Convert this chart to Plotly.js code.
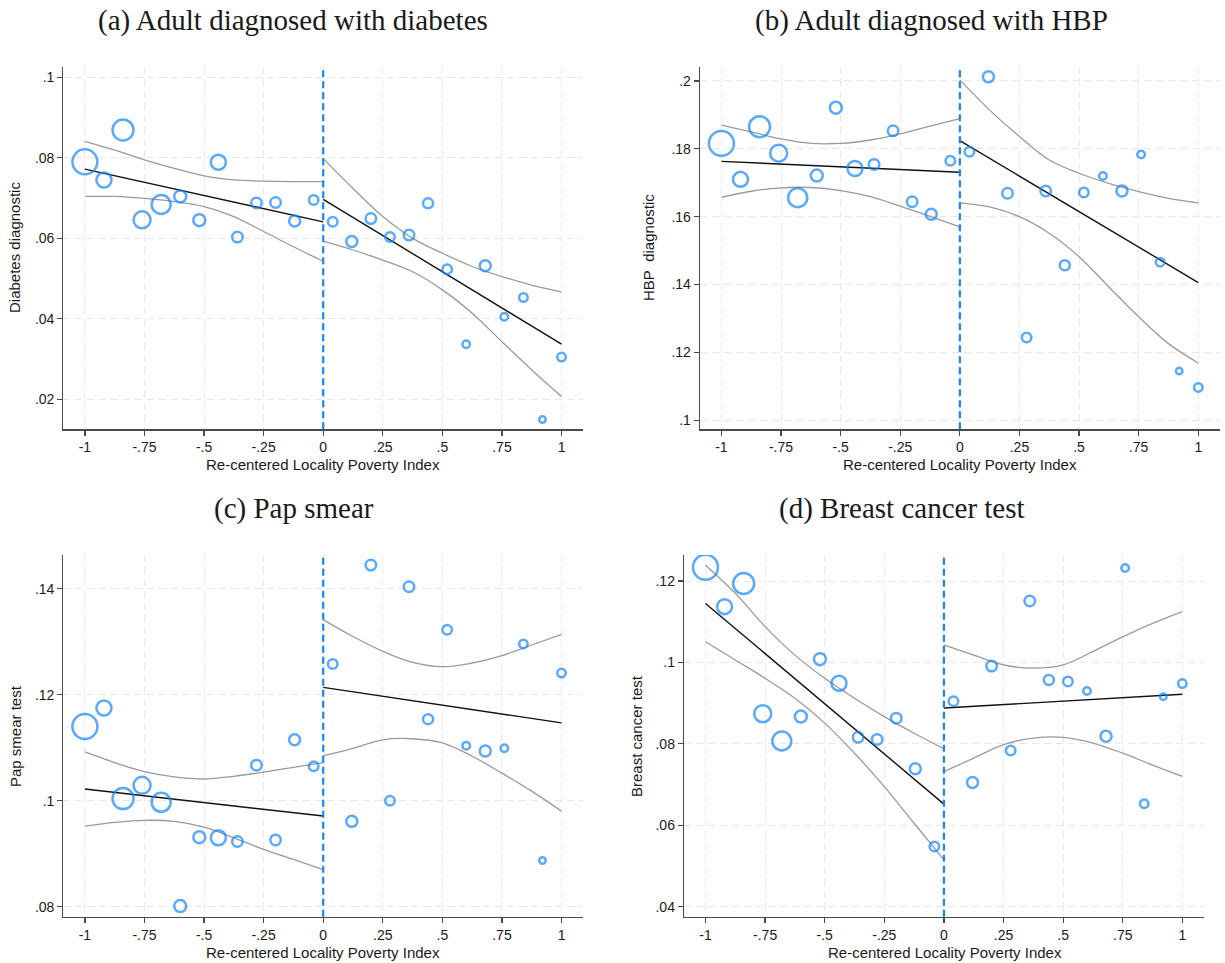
<!DOCTYPE html>
<html>
<head>
<meta charset="utf-8">
<script src="https://cdn.plot.ly/plotly-3.0.1.min.js"></script>
<style>html,body{margin:0;padding:0;background:#fff;}#chart{width:1225px;height:963px;}</style>
</head>
<body>
<div id="chart"></div>
<script>
// ---------- data ----------
const binX = [-1, -0.92, -0.84, -0.76, -0.68, -0.6, -0.52, -0.44, -0.36, -0.28, -0.2, -0.12, -0.04,
              0.04, 0.12, 0.2, 0.28, 0.36, 0.44, 0.52, 0.6, 0.68, 0.76, 0.84, 0.92, 1.0];
const binWeight = [25, 15, 21, 17, 19, 12, 12, 15, 10.5, 10.5, 10.5, 11, 9.5,
                   9.5, 11, 10.5, 9.5, 10.5, 10, 9.5, 7.5, 11, 7.5, 8.5, 6.5, 8.5];

const diabetesY = [0.0790, 0.0745, 0.0869, 0.0646, 0.0684, 0.0704, 0.0645, 0.0789, 0.0603, 0.0688, 0.0689, 0.0643, 0.0695,
                   0.0641, 0.0592, 0.0649, 0.0603, 0.0608, 0.0687, 0.0523, 0.0337, 0.0532, 0.0405, 0.0453, 0.0150, 0.0305];
const hbpY = [0.1816, 0.1710, 0.1865, 0.1787, 0.1656, 0.1721, 0.1921, 0.1742, 0.1754, 0.1853, 0.1644, 0.1607, 0.1765,
              0.1791, 0.2012, 0.1669, 0.1244, 0.1676, 0.1457, 0.1671, 0.1720, 0.1676, 0.1783, 0.1466, 0.1145, 0.1097];
const papY = [0.1140, 0.1175, 0.1004, 0.1029, 0.0997, 0.0801, 0.0931, 0.0930, 0.0923, 0.1067, 0.0926, 0.1115, 0.1065,
              0.1258, 0.0961, 0.1445, 0.1000, 0.1404, 0.1154, 0.1323, 0.1104, 0.1094, 0.1099, 0.1296, 0.0887, 0.1241];
const breastY = [0.1234, 0.1137, 0.1194, 0.0874, 0.0807, 0.0867, 0.1008, 0.0949, 0.0816, 0.0811, 0.0863, 0.0739, 0.0548,
                 0.0905, 0.0705, 0.0991, 0.0784, 0.1151, 0.0957, 0.0953, 0.0930, 0.0819, 0.1232, 0.0653, 0.0916, 0.0948];

const fitLeftX = [-1, 0];
const fitRightX = [0, 1];
const diabetesFitL = [0.0772, 0.0641], diabetesFitR = [0.0697, 0.0337];
const hbpFitL = [0.1763, 0.1731],      hbpFitR = [0.1824, 0.1406];
const papFitL = [0.1022, 0.0971],      papFitR = [0.1214, 0.1147];
const breastFitL = [0.1145, 0.0652],   breastFitR = [0.0888, 0.0922];

const ciLeftX = [-1, -0.875, -0.75, -0.625, -0.5, -0.375, -0.25, -0.125, 0];
const ciRightX = [0, 0.125, 0.25, 0.375, 0.5, 0.625, 0.75, 0.875, 1];
const diabetesCiLU = [0.0841, 0.0819, 0.0795, 0.0774, 0.0755, 0.0745, 0.0742, 0.0741, 0.0741];
const diabetesCiLL = [0.0704, 0.0704, 0.0699, 0.0691, 0.0679, 0.0654, 0.0617, 0.0579, 0.0543];
const diabetesCiRU = [0.0798, 0.0724, 0.0654, 0.0600, 0.0563, 0.0530, 0.0505, 0.0484, 0.0467];
const diabetesCiRL = [0.0593, 0.0571, 0.0546, 0.0517, 0.0472, 0.0414, 0.0343, 0.0273, 0.0207];
const hbpCiLU = [0.1870, 0.1850, 0.1829, 0.1816, 0.1816, 0.1826, 0.1844, 0.1867, 0.1889];
const hbpCiLL = [0.1657, 0.1675, 0.1685, 0.1686, 0.1677, 0.1659, 0.1631, 0.1601, 0.1570];
const hbpCiRU = [0.2003, 0.1914, 0.1836, 0.1767, 0.1728, 0.1698, 0.1674, 0.1654, 0.1641];
const hbpCiRL = [0.1641, 0.1629, 0.1600, 0.1551, 0.1482, 0.1393, 0.1305, 0.1226, 0.1169];
const papCiLU = [0.1092, 0.1072, 0.1055, 0.1045, 0.1041, 0.1046, 0.1054, 0.1063, 0.1072];
const papCiLL = [0.0952, 0.0959, 0.0963, 0.0961, 0.0950, 0.0930, 0.0908, 0.0889, 0.0870];
const papCiRU = [0.1342, 0.1310, 0.1282, 0.1261, 0.1253, 0.1260, 0.1274, 0.1294, 0.1314];
const papCiRL = [0.1085, 0.1099, 0.1115, 0.1117, 0.1109, 0.1084, 0.1052, 0.1018, 0.0980];
const breastCiLU = [0.1239, 0.1170, 0.1088, 0.1018, 0.0961, 0.0912, 0.0867, 0.0826, 0.0788];
const breastCiLL = [0.1051, 0.1006, 0.0961, 0.0912, 0.0851, 0.0777, 0.0695, 0.0605, 0.0515];
const breastCiRU = [0.1043, 0.1018, 0.0994, 0.0986, 0.0994, 0.1027, 0.1063, 0.1096, 0.1125];
const breastCiRL = [0.0732, 0.0765, 0.0798, 0.0814, 0.0816, 0.0802, 0.0777, 0.0748, 0.0720];

const xTickVals = [-1, -0.75, -0.5, -0.25, 0, 0.25, 0.5, 0.75, 1];
const xTickText = ["-1", "-.75", "-.5", "-.25", "0", ".25", ".5", ".75", "1"];
const diabetesTickVals = [0.02, 0.04, 0.06, 0.08, 0.1];
const diabetesTickText = [".02", ".04", ".06", ".08", ".1"];
const hbpTickVals = [0.1, 0.12, 0.14, 0.16, 0.18, 0.2];
const hbpTickText = [".1", ".12", ".14", ".16", ".18", ".2"];
const papTickVals = [0.08, 0.1, 0.12, 0.14];
const papTickText = [".08", ".1", ".12", ".14"];
const breastTickVals = [0.04, 0.06, 0.08, 0.1, 0.12];
const breastTickText = [".04", ".06", ".08", ".1", ".12"];

const panelTitles = ["(a) Adult diagnosed with diabetes", "(b) Adult diagnosed with HBP", "(c) Pap smear", "(d) Breast cancer test"];
const yTitles = ["Diabetes diagnostic", "HBP  diagnostic", "Pap smear test", "Breast cancer test"];
const xTitle = "Re-centered Locality Poverty Index";

// ---------- build ----------
const BLUE = "#1485ff";
const panels = [
  {y: diabetesY, fl: diabetesFitL, fr: diabetesFitR, lu: diabetesCiLU, ll: diabetesCiLL, ru: diabetesCiRU, rl: diabetesCiRL},
  {y: hbpY, fl: hbpFitL, fr: hbpFitR, lu: hbpCiLU, ll: hbpCiLL, ru: hbpCiRU, rl: hbpCiRL},
  {y: papY, fl: papFitL, fr: papFitR, lu: papCiLU, ll: papCiLL, ru: papCiRU, rl: papCiRL},
  {y: breastY, fl: breastFitL, fr: breastFitR, lu: breastCiLU, ll: breastCiLL, ru: breastCiRU, rl: breastCiRL}
];
const traces = [];
panels.forEach((p, i) => {
  const xa = i === 0 ? "x" : "x" + (i + 1);
  const ya = i === 0 ? "y" : "y" + (i + 1);
  const ci = {color: "#9a9a9a", width: 1.3, shape: "spline", smoothing: 1};
  [[ciLeftX, p.lu], [ciLeftX, p.ll], [ciRightX, p.ru], [ciRightX, p.rl]].forEach(([xs, ys]) => {
    traces.push({x: xs, y: ys, xaxis: xa, yaxis: ya, mode: "lines", line: ci, hoverinfo: "skip", showlegend: false});
  });
  traces.push({x: fitLeftX, y: p.fl, xaxis: xa, yaxis: ya, mode: "lines", line: {color: "#111", width: 1.4}, showlegend: false});
  traces.push({x: fitRightX, y: p.fr, xaxis: xa, yaxis: ya, mode: "lines", line: {color: "#111", width: 1.4}, showlegend: false});
  traces.push({x: binX, y: p.y, xaxis: xa, yaxis: ya, mode: "markers", showlegend: false,
    marker: {symbol: "circle", size: binWeight, color: "rgba(0,0,0,0)", line: {color: BLUE, width: 2.5}}});
});

const xDomL = [0.0518, 0.4759], xDomR1 = [0.5714, 0.9957], xDomR2 = [0.5584, 0.9827];
const yDomT = [0.5542, 0.9304], yDomB = [0.0481, 0.4237];
const yRanges = [[0.01255, 0.10256], [0.09735, 0.2041], [0.0781, 0.1464], [0.03755, 0.1264]];
const yTV = [diabetesTickVals, hbpTickVals, papTickVals, breastTickVals];
const yTT = [diabetesTickText, hbpTickText, papTickText, breastTickText];
const xDoms = [xDomL, xDomR1, xDomL, xDomR2];
const yDoms = [yDomT, yDomT, yDomB, yDomB];

const tickFont = {family: "Liberation Sans, Arial, sans-serif", size: 14, color: "#1a1a1a"};
const layout = {
  width: 1225, height: 963, margin: {l: 0, r: 0, t: 0, b: 0},
  paper_bgcolor: "#fff", plot_bgcolor: "#fff", showlegend: false,
  shapes: [], annotations: []
};
for (let i = 0; i < 4; i++) {
  const sfx = i === 0 ? "" : String(i + 1);
  const common = {showline: true, linecolor: "#4a4a4a", linewidth: 1.3, ticks: "outside", ticklen: 5, tickcolor: "#4a4a4a",
    tickwidth: 1.2, showgrid: true, gridcolor: "#e8e8e8", gridwidth: 1, griddash: "7px,5px", zeroline: false,
    tickfont: tickFont, fixedrange: true, mirror: false};
  layout["xaxis" + sfx] = Object.assign({}, common, {domain: xDoms[i], range: [-1.09, 1.09], tickmode: "array",
    tickvals: xTickVals, ticktext: xTickText, anchor: "y" + sfx});
  layout["yaxis" + sfx] = Object.assign({}, common, {domain: yDoms[i], range: yRanges[i], tickmode: "array",
    tickvals: yTV[i], ticktext: yTT[i], anchor: "x" + sfx});
  layout.shapes.push({type: "line", xref: "x" + sfx, yref: "y" + sfx + " domain", x0: 0, x1: 0, y0: 0, y1: 1,
    line: {color: BLUE, width: 2.2, dash: "7px,4px"}, layer: "above"});
}
// panel titles
const titleFont = {family: "Liberation Serif, Times New Roman, serif", size: 29, color: "#1a1a1a"};
const titlePos = [[293, 20], [931, 20], [294, 508], [902, 508]];
titlePos.forEach((pos, i) => {
  layout.annotations.push({text: panelTitles[i], xref: "paper", yref: "paper", x: pos[0] / 1225, y: 1 - pos[1] / 963,
    xanchor: "center", yanchor: "middle", showarrow: false, font: titleFont});
});
// axis titles
const axFont = {family: "Liberation Sans, Arial, sans-serif", size: 15, color: "#1a1a1a"};
const xTitlePos = [[323, 464.5], [960, 464.5], [323, 952], [945, 952]];
xTitlePos.forEach((pos) => {
  layout.annotations.push({text: xTitle, xref: "paper", yref: "paper", x: pos[0] / 1225, y: 1 - pos[1] / 963,
    xanchor: "center", yanchor: "middle", showarrow: false, font: axFont});
});
const yTitlePos = [[15, 248], [649, 248], [15, 736], [636, 736]];
yTitlePos.forEach((pos, i) => {
  layout.annotations.push({text: yTitles[i].replace(/ /g, "&nbsp;"), xref: "paper", yref: "paper", x: pos[0] / 1225, y: 1 - pos[1] / 963,
    xanchor: "center", yanchor: "middle", textangle: -90, showarrow: false, font: axFont});
});

Plotly.newPlot("chart", traces, layout, {staticPlot: true, displayModeBar: false});
</script>
</body>
</html>
